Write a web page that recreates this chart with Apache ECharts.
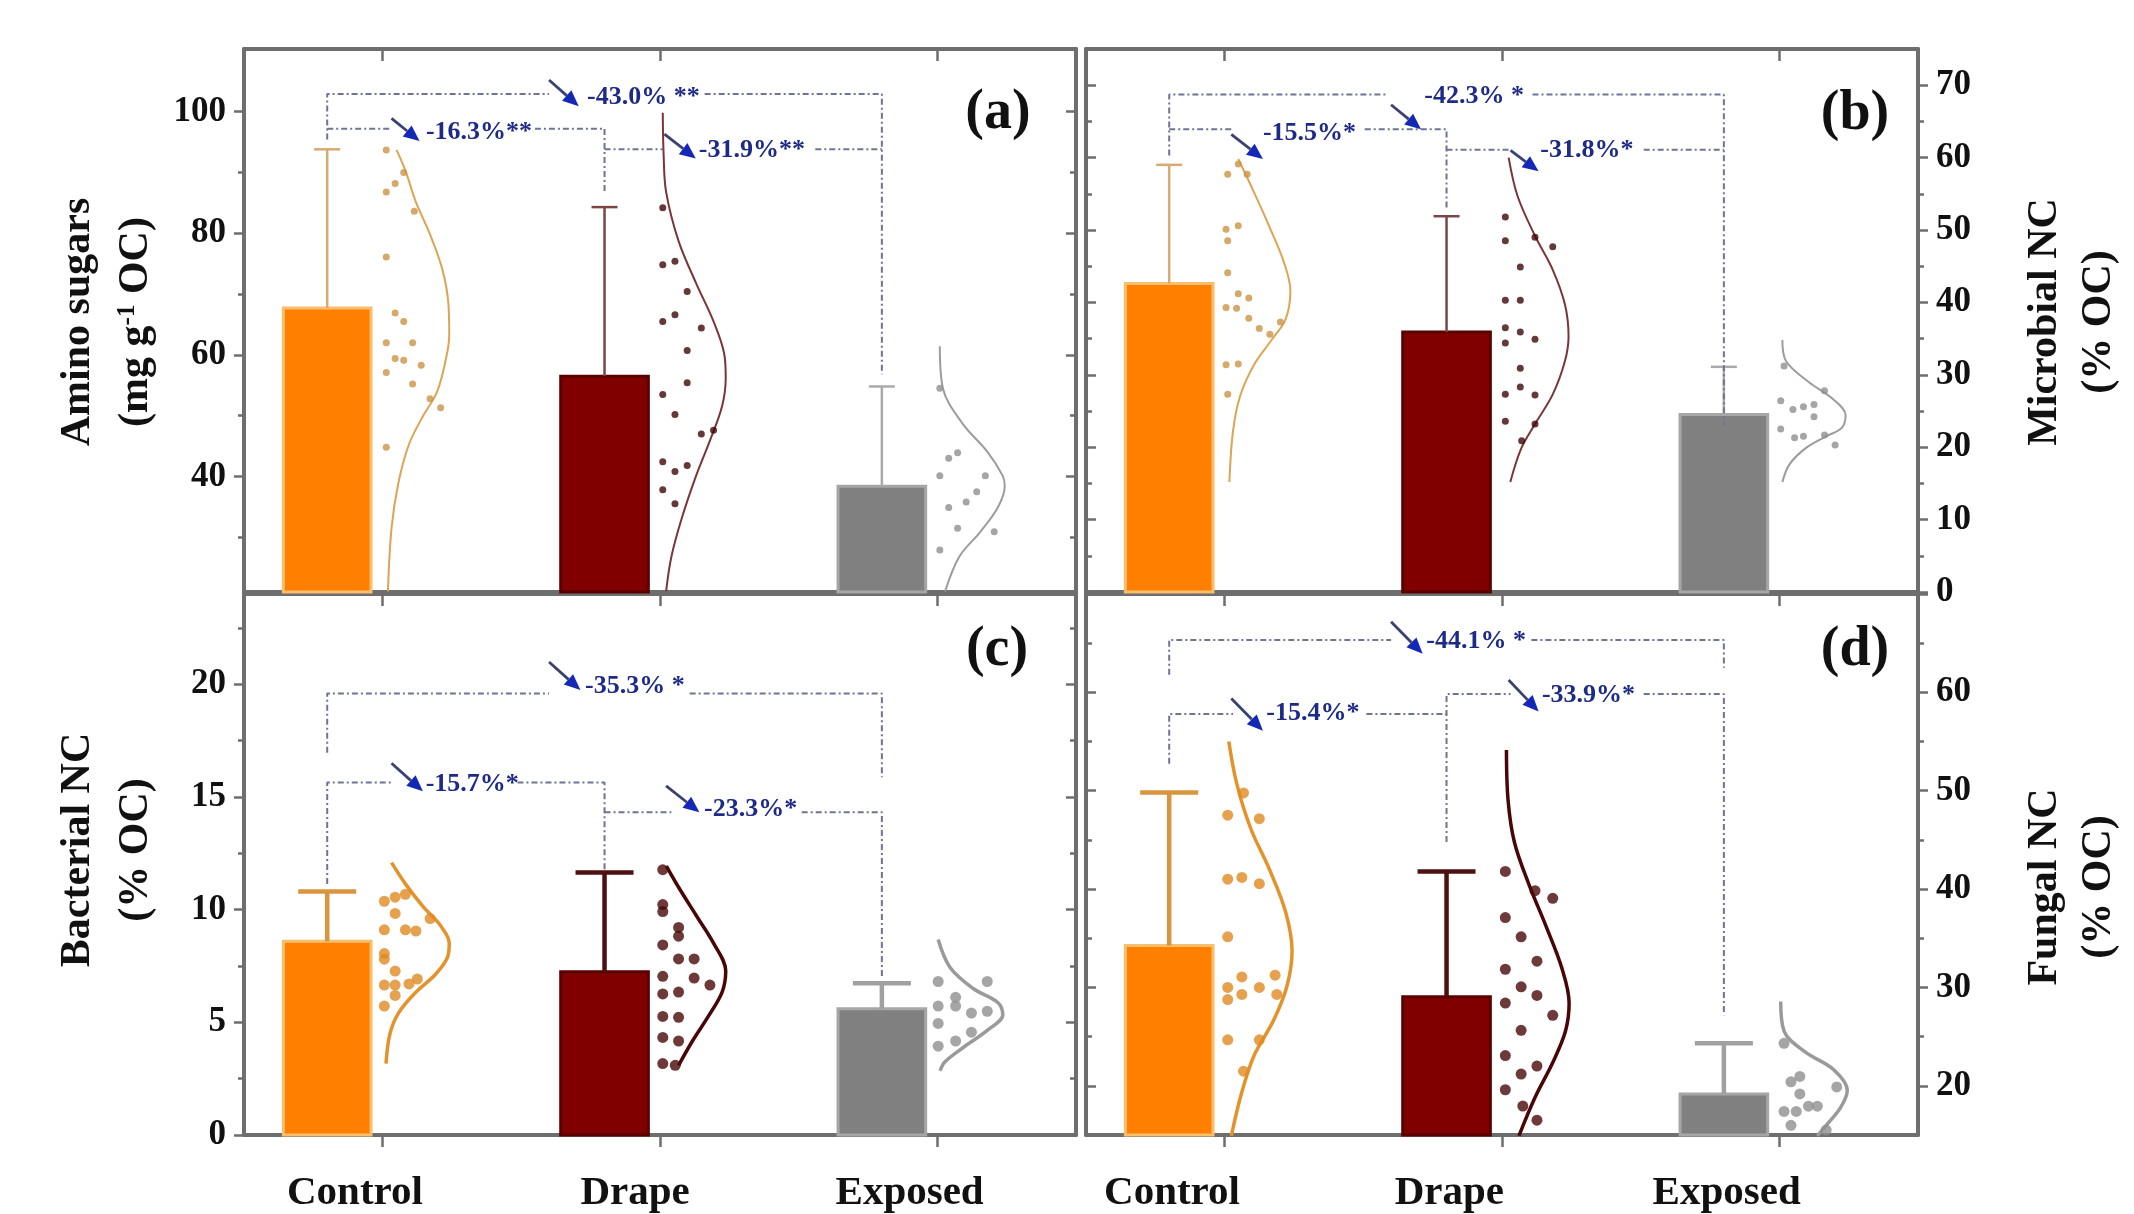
<!DOCTYPE html>
<html><head><meta charset="utf-8">
<script src="https://cdn.jsdelivr.net/npm/echarts@6/dist/echarts.min.js"></script>
<style>html,body{margin:0;padding:0;background:#fff}#c{width:2134px;height:1214px}</style>
</head><body><div id="c"></div>
<script>
// ---------------- DATA ----------------
const categories = ['Control', 'Drape', 'Exposed'];
const barX = [0.80, 1.80, 2.80];

// Panel (a) Amino sugars
const aMeans = [67.7, 56.5, 38.4];
const aUpper = [93.8, 84.3, 54.8];
const aTicks = [40, 60, 80, 100];
const aMinorTicks = [30, 50, 70, 90];
const aCtrlPts = [[1.013,93.7],[1.076,90.0],[1.045,88.2],[1.013,86.8],[1.114,83.6],[1.013,76.1],[1.045,66.9],[1.076,65.5],[1.013,62.0],[1.108,62.0],[1.045,59.4],[1.076,59.1],[1.139,58.3],[1.013,57.1],[1.108,55.2],[1.171,52.8],[1.209,51.3],[1.013,44.8]];
const aDrapePts = [[2.010,84.2],[2.010,74.8],[2.054,75.4],[2.098,70.4],[2.010,65.5],[2.054,66.6],[2.149,64.4],[2.098,60.7],[2.098,55.4],[2.010,53.5],[2.054,50.2],[2.149,47.0],[2.193,47.6],[2.010,42.4],[2.054,40.8],[2.098,41.8],[2.010,37.8],[2.054,35.5]];
const aExpPts = [[3.009,54.5],[3.041,43.0],[3.073,43.9],[3.009,40.1],[3.173,40.1],[3.142,37.5],[3.104,35.8],[3.041,34.9],[3.073,31.5],[3.205,30.9],[3.009,27.9]];
const aCtrlCurve = [[1.05,93.7],[1.082,90.3],[1.12,85.1],[1.17,79.9],[1.215,74.1],[1.237,68.4],[1.24,63.2],[1.227,59.1],[1.196,53.9],[1.145,49.9],[1.095,45.3],[1.057,39.0],[1.032,31.5],[1.019,21.1]];
const aDrapeCurve = [[2.01,99.8],[2.013,93.0],[2.022,86.8],[2.067,78.7],[2.13,71.8],[2.193,65.5],[2.231,60.3],[2.237,56.2],[2.224,51.6],[2.18,45.9],[2.13,40.1],[2.079,33.2],[2.041,26.8],[2.022,21.1]];
const aExpCurve = [[3.009,61.4],[3.02,54.5],[3.091,48.7],[3.18,44.1],[3.236,40.1],[3.243,38.4],[3.218,34.9],[3.155,30.9],[3.079,26.8],[3.028,21.1]];
const aBrackets = [
  [[0.80,95.4],[0.80,102.9],[1.60,102.9]],
  [[2.161,102.9],[2.80,102.9],[2.80,56.8]],
  [[0.80,97.2],[1.03,97.2]],
  [[1.549,97.2],[1.80,97.2],[1.80,86.5]],
  [[1.80,93.8],[2.01,93.8]],
  [[2.56,93.8],[2.80,93.8]]
];
const aNoteText = ['-43.0% **', '-16.3%**', '-31.9%**'];
const aNotePos = [[1.600,105.2,1.707,100.9,1.737,102.4],[1.032,98.9,1.133,95.15,1.156,96.6],[2.016,96.3,2.129,92.3,2.140,93.7]];

// Panel (b) Microbial NC
const bMeans = [42.6, 35.9, 24.5];
const bUpper = [59.0, 51.9, 31.1];
const bTicks = [0, 10, 20, 30, 40, 50, 60, 70];
const bMinorTicks = [5, 15, 25, 35, 45, 55, 65];
const bCtrlPts = [[1.049,59.1],[1.011,57.7],[1.081,57.7],[1.005,50.1],[1.049,50.6],[1.011,48.5],[1.011,44.1],[1.049,41.2],[1.087,40.6],[1.005,39.3],[1.043,39.2],[1.087,37.8],[1.201,37.3],[1.125,36.4],[1.163,35.6],[1.005,31.4],[1.049,31.5],[1.011,27.3]];
const bDrapePts = [[2.012,51.8],[2.012,48.5],[2.119,49.0],[2.183,47.7],[2.066,44.9],[2.012,40.3],[2.066,40.3],[2.012,36.5],[2.066,35.9],[2.119,34.9],[2.012,34.4],[2.066,30.9],[2.066,28.3],[2.012,27.3],[2.119,27.2],[2.012,23.6],[2.119,23.2],[2.071,20.9]];
const bExpPts = [[3.017,31.2],[3.163,27.8],[3.005,26.4],[3.125,25.9],[3.087,25.6],[3.049,25.2],[3.125,24.2],[3.005,22.5],[3.163,21.7],[3.087,21.5],[3.055,21.3],[3.201,20.3]];
const bCtrlCurve = [[1.049,59.8],[1.106,55.2],[1.163,50.3],[1.214,45.5],[1.237,41.6],[1.22,37.7],[1.169,34.8],[1.106,31.4],[1.056,27.1],[1.03,22.2],[1.017,15.2]];
const bDrapeCurve = [[2.024,60.0],[2.056,54.7],[2.119,49.2],[2.183,44.5],[2.227,39.7],[2.240,35.3],[2.227,31.9],[2.183,27.3],[2.119,23.2],[2.069,19.8],[2.03,15.2]];
const bExpCurve = [[3.011,34.8],[3.024,31.9],[3.106,29.0],[3.195,26.6],[3.239,24.4],[3.226,22.7],[3.169,21.5],[3.093,19.8],[3.036,17.6],[3.011,15.2]];
const bBrackets = [
  [[0.80,60.3],[0.80,68.7],[1.587,68.7]],
  [[2.11,68.7],[2.80,68.7],[2.80,23.0]],
  [[0.80,63.9],[1.03,63.9]],
  [[1.505,63.9],[1.80,63.9],[1.80,52.8]],
  [[1.80,61.1],[2.024,61.1]],
  [[2.511,61.1],[2.80,61.1]]
];
const bNoteText = ['-42.3% *', '-15.5%*', '-31.8%*'];
const bNotePos = [[1.60,67.3,1.708,63.9,1.72,68.5],[1.024,63.2,1.138,59.8,1.138,63.4],[2.031,61.0,2.132,58.1,2.138,61.0]];

// Panel (c) Bacterial NC
const cMeans = [8.59, 7.24, 5.60];
const cUpper = [10.80, 11.64, 6.73];
const cTicks = [0, 5, 10, 15, 20];
const cMinorTicks = [2.5, 7.5, 12.5, 17.5, 22.5];
const cCtrlPts = [[1.006,10.37],[1.045,10.55],[1.082,10.68],[1.045,9.83],[1.006,9.10],[1.082,9.10],[1.12,9.05],[1.171,9.6],[1.006,8.05],[1.006,7.8],[1.045,7.27],[1.006,6.65],[1.045,6.65],[1.095,6.7],[1.125,6.92],[1.045,6.19],[1.006,5.72]];
const cDrapePts = [[2.01,11.77],[2.01,10.22],[2.01,9.91],[2.067,9.21],[2.067,8.82],[2.01,8.43],[2.067,7.81],[2.123,7.81],[2.01,7.04],[2.123,6.96],[2.18,6.65],[2.01,6.26],[2.067,6.34],[2.01,5.26],[2.067,5.22],[2.01,4.33],[2.067,4.17],[2.01,3.17],[2.055,3.09]];
const cExpPts = [[3.003,6.81],[3.18,6.81],[3.066,6.11],[3.066,5.72],[3.003,5.72],[3.123,5.41],[3.18,5.49],[3.003,4.95],[3.123,4.56],[3.066,4.17],[3.003,3.94]];
const cCtrlCurve = [[1.032,12.08],[1.082,11.14],[1.145,10.14],[1.209,9.28],[1.24,8.51],[1.234,7.89],[1.19,7.12],[1.12,6.34],[1.057,5.41],[1.026,4.48],[1.012,3.17]];
const cDrapeCurve = [[2.023,11.93],[2.067,10.99],[2.13,9.75],[2.193,8.51],[2.237,7.27],[2.224,6.34],[2.174,5.26],[2.117,4.17],[2.067,3.09]];
const cExpCurve = [[3.003,8.67],[3.046,7.43],[3.129,6.5],[3.218,5.88],[3.236,5.33],[3.18,4.64],[3.091,3.86],[3.027,3.24],[3.01,2.85]];
const cBrackets = [
  [[0.80,16.96],[0.80,19.59],[1.60,19.59]],
  [[2.107,19.59],[2.80,19.59],[2.80,15.87]],
  [[0.80,11.14],[0.80,15.64],[1.032,15.64]],
  [[1.486,15.64],[1.80,15.64],[1.80,11.77]],
  [[1.80,14.32],[2.041,14.32]],
  [[2.511,14.32],[2.80,14.32],[2.80,7.04]]
];
const cNoteText = ['-35.3% *', '-15.7%*', '-23.3%*'];
const cNotePos = [[1.60,20.98,1.713,19.74,1.730,19.9],[1.032,16.49,1.145,15.25,1.155,15.56],[2.022,15.49,2.142,14.32,2.159,14.47]];
const cLabelPos = [0.90, 1.91, 2.90];

// Panel (d) Fungal NC
const dMeans = [34.26, 29.05, 19.17];
const dUpper = [49.82, 41.79, 24.32];
const dTicks = [20, 30, 40, 50, 60, 70];
const dTickLabels = [20, 30, 40, 50, 60];
const dMinorTicks = [25, 35, 45, 55, 65];
const dCtrlPts = [[1.068,49.78],[1.011,47.51],[1.125,47.16],[1.011,41.01],[1.062,41.18],[1.125,40.55],[1.011,35.15],[1.062,31.07],[1.182,31.25],[1.011,30.0],[1.125,30.0],[1.011,28.77],[1.062,29.29],[1.188,29.29],[1.011,24.68],[1.125,24.68],[1.068,21.49]];
const dDrapePts = [[2.012,41.79],[2.119,39.84],[2.183,39.06],[2.012,37.1],[2.069,35.15],[2.126,32.67],[2.012,31.85],[2.069,30.07],[2.126,29.19],[2.012,28.41],[2.183,27.17],[2.069,25.64],[2.012,23.08],[2.126,22.01],[2.069,21.19],[2.012,19.6],[2.075,17.94],[2.126,16.51]];
const dExpPts = [[3.017,24.32],[3.074,20.95],[3.042,20.41],[3.207,19.89],[3.074,19.17],[3.017,17.4],[3.061,17.4],[3.105,17.93],[3.137,17.93],[3.042,15.98],[3.169,15.5]];
const dCtrlCurve = [[1.015,55.0],[1.043,50.78],[1.094,46.16],[1.163,41.9],[1.22,37.64],[1.243,33.73],[1.225,30.18],[1.176,26.63],[1.106,23.08],[1.06,19.17],[1.024,14.92]];
const dDrapeCurve = [[2.016,54.15],[2.022,49.0],[2.045,44.74],[2.097,40.48],[2.159,36.21],[2.216,31.95],[2.242,28.41],[2.229,25.57],[2.183,22.37],[2.119,18.82],[2.061,14.92]];
const dExpCurve = [[3.005,28.58],[3.017,25.57],[3.093,23.44],[3.195,21.66],[3.245,19.53],[3.22,17.75],[3.169,15.98],[3.137,14.92]];
const dBrackets = [
  [[0.80,61.78],[0.80,65.33],[1.60,65.33]],
  [[2.106,65.33],[2.80,65.33],[2.80,62.49]],
  [[0.80,52.73],[0.80,57.8],[1.03,57.8]],
  [[1.511,57.8],[1.80,57.8]],
  [[1.80,44.8],[1.80,59.83],[2.031,59.83]],
  [[2.511,59.83],[2.80,59.83],[2.80,27.17]]
];
const dNoteText = ['-44.1% *', '-15.4%*', '-33.9%*'];
const dNotePos = [[1.60,67.18,1.714,63.92,1.727,65.15],[1.024,59.37,1.138,56.1,1.150,57.87],[2.024,61.25,2.132,58.06,2.144,59.66]];
const dLabelPos = [0.81, 1.81, 2.81];

// ---------------- STYLE ----------------
const FONT = '"Liberation Serif", "Times New Roman", serif';
const AX = '#6e6e6e';
const BAR_W = 0.316;
const barFill = ['#FF8000', '#800000', '#808080'];
const barStroke = ['#F7BE6E', '#5A0000', '#A6A6A6'];

const panels = [
  {grid:{left:244, top:49, width:832, height:543}, min:21, max:110.3, side:'left',
   ticks:aTicks, labels:aTicks, minor:aMinorTicks, means:aMeans, upper:aUpper,
   pts:[aCtrlPts,aDrapePts,aExpPts], curves:[aCtrlCurve,aDrapeCurve,aExpCurve],
   brackets:aBrackets, notes:aNoteText, notePos:aNotePos, catLabels:null, big:false},
  {grid:{left:1086, top:49, width:832, height:543}, min:0, max:75, side:'right',
   ticks:bTicks, labels:bTicks, minor:bMinorTicks, means:bMeans, upper:bUpper,
   pts:[bCtrlPts,bDrapePts,bExpPts], curves:[bCtrlCurve,bDrapeCurve,bExpCurve],
   brackets:bBrackets, notes:bNoteText, notePos:bNotePos, catLabels:null, big:false},
  {grid:{left:244, top:594, width:832, height:543}, min:0, max:24, side:'left',
   ticks:cTicks, labels:cTicks, minor:cMinorTicks, means:cMeans, upper:cUpper,
   pts:[cCtrlPts,cDrapePts,cExpPts], curves:[cCtrlCurve,cDrapeCurve,cExpCurve],
   brackets:cBrackets, notes:cNoteText, notePos:cNotePos, catLabels:cLabelPos, big:true},
  {grid:{left:1086, top:594, width:832, height:543}, min:15, max:70, side:'right',
   ticks:dTicks, labels:dTickLabels, minor:dMinorTicks, means:dMeans, upper:dUpper,
   pts:[dCtrlPts,dDrapePts,dExpPts], curves:[dCtrlCurve,dDrapeCurve,dExpCurve],
   brackets:dBrackets, notes:dNoteText, notePos:dNotePos, catLabels:dLabelPos, big:true}
];

const grids = [], xAxes = [], yAxes = [], series = [];

function tickStyle(w){ return {color: AX, width: w}; }

panels.forEach((p, i) => {
  grids.push(p.grid);
  const xBase = {type:'value', gridIndex:i, min:0.5, max:3.5, splitLine:{show:false},
    axisLine:{show:true, onZero:false, lineStyle:{color:AX, width:4}}};
  xAxes.push(Object.assign({}, xBase, {position:'bottom',
    axisTick:{show:true, inside:false, length:12, customValues:[1,2,3], lineStyle:tickStyle(2.5)},
    axisLabel: p.catLabels ? {show:true, customValues:p.catLabels, margin:38,
      formatter: v => categories[Math.round(v) - 1],
      fontFamily:FONT, fontWeight:'bold', fontSize:41, color:'#111'} : {show:false}}));
  xAxes.push(Object.assign({}, xBase, {position:'top',
    axisTick:{show:true, inside:true, length:12, customValues:[1,2,3], lineStyle:tickStyle(2.5)},
    axisLabel:{show:false}}));
  const other = p.side === 'left' ? 'right' : 'left';
  const yBase = {type:'value', gridIndex:i, min:p.min, max:p.max, splitLine:{show:false},
    axisLine:{show:true, onZero:false, lineStyle:{color:AX, width:4}}};
  yAxes.push(Object.assign({}, yBase, {position:p.side,
    axisTick:{show:true, inside:false, length:10, customValues:p.ticks, lineStyle:tickStyle(2.5)},
    axisLabel:{show:true, customValues:p.labels, margin:18, fontFamily:FONT, fontWeight:'bold', fontSize:35, color:'#111'}}));
  yAxes.push(Object.assign({}, yBase, {position:p.side, axisLine:{show:false},
    axisTick:{show:true, inside:false, length:6, customValues:p.minor, lineStyle:tickStyle(2.5)},
    axisLabel:{show:false}}));
  yAxes.push(Object.assign({}, yBase, {position:other,
    axisTick:{show:true, inside:true, length:10, customValues:p.ticks, lineStyle:tickStyle(2.5)},
    axisLabel:{show:false}}));
  yAxes.push(Object.assign({}, yBase, {position:other, axisLine:{show:false},
    axisTick:{show:true, inside:true, length:6, customValues:p.minor, lineStyle:tickStyle(2.5)},
    axisLabel:{show:false}}));

  const xi = 2 * i, yi = 4 * i;
  const big = p.big;
  // bars
  series.push({type:'custom', xAxisIndex:xi, yAxisIndex:yi, z:1, silent:true,
    data: barX.map((x, k) => [x, p.means[k]]),
    renderItem: (params, api) => {
      const x = api.value(0), y = api.value(1);
      const a = api.coord([x - BAR_W / 2, y]);
      const b = api.coord([x + BAR_W / 2, y]);
      const bottom = params.coordSys.y + params.coordSys.height;
      return {type:'rect', shape:{x:a[0], y:a[1], width:b[0] - a[0], height:bottom - a[1]},
        style:{fill:barFill[params.dataIndex], stroke:barStroke[params.dataIndex], lineWidth:3}};
    }});
  // error bars (upper only)
  const errCol = big ? ['#D9953E', '#4E1010', '#A0A0A0'] : ['#D6AA70', '#7A4646', '#AAAAAA'];
  series.push({type:'custom', xAxisIndex:xi, yAxisIndex:yi, z:2, silent:true,
    data: barX.map((x, k) => [x, p.means[k], p.upper[k]]),
    renderItem: (params, api) => {
      const x = api.value(0);
      const m = api.coord([x, api.value(1)]);
      const u = api.coord([x, api.value(2)]);
      const half = big ? 29 : 13;
      const st = {stroke: errCol[params.dataIndex], lineWidth: big ? 4.5 : 2.5};
      return {type:'group', children:[
        {type:'line', shape:{x1:m[0], y1:m[1], x2:u[0], y2:u[1]}, style:st},
        {type:'line', shape:{x1:u[0] - half, y1:u[1], x2:u[0] + half, y2:u[1]}, style:st}
      ]};
    }});
  // curves
  const curveCol = big ? ['#E3922C', '#4A0606', '#9A9A9A'] : ['#DDA455', '#7A3636', '#9C9C9C'];
  p.curves.forEach((c, k) => series.push({type:'line', xAxisIndex:xi, yAxisIndex:yi, z:3, silent:true,
    data:c, smooth:0.35, symbol:'none', lineStyle:{color:curveCol[k], width: big ? 3.5 : 2}}));
  // points
  const ptCol = big ? ['#E08A22', '#4A0808', '#8E8E8E'] : ['#C99444', '#3E0808', '#8E8E8E'];
  p.pts.forEach((d, k) => series.push({type:'scatter', xAxisIndex:xi, yAxisIndex:yi, z:4, silent:true,
    data:d, symbol:'circle', symbolSize: big ? 11 : 7, itemStyle:{color:ptCol[k]}}));
  // brackets
  p.brackets.forEach(b => series.push({type:'line', xAxisIndex:xi, yAxisIndex:yi, z:5, silent:true,
    data:b, symbol:'none', lineStyle:{color:'#6F7496', width:2, type:[6, 3, 2, 3]}}));
  // annotations (arrow + text)
  const labels = p.notes;
  series.push({type:'custom', xAxisIndex:xi, yAxisIndex:yi, z:6, silent:true,
    data:p.notePos,
    renderItem: (params, api) => {
      const p0 = api.coord([api.value(0), api.value(1)]);
      const p1 = api.coord([api.value(2), api.value(3)]);
      const pt = api.coord([api.value(4), api.value(5)]);
      const dx = p1[0] - p0[0], dy = p1[1] - p0[1];
      const L = Math.hypot(dx, dy), ux = dx / L, uy = dy / L;
      const HL = 16, HW = 7;
      const bx = p1[0] - ux * HL, by = p1[1] - uy * HL;
      return {type:'group', children:[
        {type:'line', shape:{x1:p0[0], y1:p0[1], x2:bx, y2:by}, style:{stroke:'#3B4170', lineWidth:2.8}},
        {type:'polygon', shape:{points:[[p1[0], p1[1]], [bx - uy * HW, by + ux * HW], [bx + uy * HW, by - ux * HW]]},
          style:{fill:'#1428B8'}},
        {type:'text', x:pt[0], y:pt[1], style:{text:labels[params.dataIndex],
          font:'bold 26px ' + FONT, fill:'#1E2A88', align:'left', verticalAlign:'middle'}}
      ]};
    }});
});

function vText(x, y, text, rich) {
  const st = {text:text, font:'bold 42px ' + FONT, fill:'#111', align:'center', verticalAlign:'middle'};
  if (rich) st.rich = rich;
  return {type:'text', x:x, y:y, rotation:Math.PI / 2, style:st, z:10};
}
function pText(x, y, text) {
  return {type:'text', x:x, y:y, style:{text:text, font:'bold 56px ' + FONT, fill:'#111', align:'center', verticalAlign:'middle'}, z:10};
}
const supRich = {a:{fontFamily:FONT, fontWeight:'bold', fontSize:42, fill:'#111', color:'#111'},
                 s:{fontFamily:FONT, fontWeight:'bold', fontSize:25, color:'#111', verticalAlign:'top'}};

const chart = echarts.init(document.getElementById('c'), null, {renderer:'canvas'});
chart.setOption({
  animation:false,
  backgroundColor:'#fff',
  grid:grids, xAxis:xAxes, yAxis:yAxes, series:series,
  graphic:[
    vText(78, 322, 'Amino sugars'),
    vText(136, 322, '{a|(mg g}{s|-1}{a| OC)}', supRich),
    vText(78, 850, 'Bacterial NC'),
    vText(136, 850, '(% OC)'),
    vText(2045, 322, 'Microbial NC'),
    vText(2099, 322, '(% OC)'),
    vText(2045, 887, 'Fungal NC'),
    vText(2099, 887, '(% OC)'),
    pText(998, 114, '(a)'),
    pText(1855, 115, '(b)'),
    pText(997, 651, '(c)'),
    pText(1855, 651, '(d)')
  ]
});
</script></body></html>
